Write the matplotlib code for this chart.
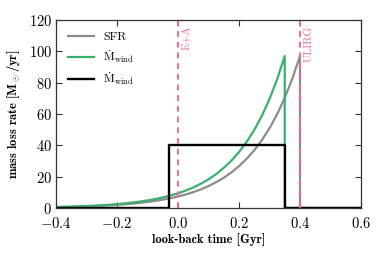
import matplotlib
matplotlib.use("Agg")
import matplotlib.pyplot as plt

plt.rcParams['font.family'] = 'serif'
plt.rcParams['font.serif'] = ['cmr10']
plt.rcParams['mathtext.fontset'] = 'cm'
plt.rcParams['axes.formatter.use_mathtext'] = True
plt.rcParams['axes.unicode_minus'] = True

# star formation rate (gray)
t_sfr = [-0.4, -0.375, -0.35, -0.325, -0.3, -0.275, -0.25, -0.225, -0.2, -0.175,
         -0.15, -0.125, -0.1, -0.075, -0.05, -0.025, 0.0, 0.025, 0.05, 0.075,
         0.1, 0.125, 0.15, 0.175, 0.2, 0.225, 0.25, 0.275, 0.3, 0.325,
         0.35, 0.375, 0.4, 0.4, 0.6]
sfr = [0.56, 0.65, 0.77, 0.90, 1.06, 1.25, 1.46, 1.72, 2.02, 2.37,
       2.79, 3.28, 3.85, 4.53, 5.32, 6.25, 7.34, 8.63, 10.1, 11.9,
       14.0, 16.5, 19.3, 22.7, 26.7, 31.4, 36.8, 43.3, 50.9, 59.8,
       70.3, 82.6, 97.0, 0.0, 0.0]

# wind mass loss (green)
t_wind = [-0.4, -0.375, -0.35, -0.325, -0.3, -0.275, -0.25, -0.225, -0.2, -0.175,
          -0.15, -0.125, -0.1, -0.075, -0.05, -0.025, 0.0, 0.025, 0.05, 0.075,
          0.1, 0.125, 0.15, 0.175, 0.2, 0.225, 0.25, 0.275, 0.3, 0.325,
          0.35, 0.35, 0.6]
wind = [0.65, 0.77, 0.91, 1.08, 1.27, 1.50, 1.78, 2.10, 2.48, 2.93,
        3.46, 4.09, 4.83, 5.70, 6.74, 7.96, 9.41, 11.1, 13.1, 15.5,
        18.3, 21.6, 25.6, 30.2, 35.7, 42.2, 49.8, 58.8, 69.5, 82.1,
        97.0, 0.0, 0.0]

# constant wind (black step)
t_box = [-0.4, -0.03, -0.03, 0.35, 0.35, 0.6]
box = [0, 0, 40, 40, 0, 0]

t_events = [0.0, 0.4]
event_names = ['E+A', 'ULIRG']

fig = plt.figure(figsize=(3.84, 2.56), dpi=100)
ax = fig.add_axes([0.146, 0.1875, 0.794, 0.7345])

ax.plot(t_sfr, sfr, color='#8c8c8c', lw=1.6, label='SFR')
ax.plot(t_wind, wind, color='#3aaf6c', lw=1.6, label=r'$\dot{\rm M}_{\rm wind}$')
ax.plot(t_box, box, color='black', lw=1.7, label=r'$\dot{\rm M}_{\rm wind}$')

pink = '#ee6a95'
for te, name in zip(t_events, event_names):
    ax.axvline(te, color=pink, ls='--', lw=1.4, dashes=(3, 2.5))
    ax.text(te + 0.013, 116.5, name, color=pink, rotation=90, fontsize=8,
            ha='left', va='top')

ax.set_xlim(-0.4, 0.6)
ax.set_ylim(0, 120)
ax.set_xticks([-0.4, -0.2, 0.0, 0.2, 0.4, 0.6])
ax.set_yticks([0, 20, 40, 60, 80, 100, 120])
ax.tick_params(direction='in', top=True, right=True, labelsize=10.5,
               length=4, width=0.8, colors='#333333', labelcolor='black')
ax.tick_params(axis='x', pad=6)
ax.tick_params(axis='y', pad=3)
for s in ax.spines.values():
    s.set_color('#333333')
    s.set_linewidth(0.9)

ax.set_xlabel('look-back time [Gyr]', fontsize=9, family='cmb10', labelpad=1)
ax.set_ylabel(r'mass loss rate [M$_\odot$/yr]', fontsize=9, family='cmb10', labelpad=5)

ax.legend(loc='upper left', frameon=False, fontsize=8.5, handlelength=2.2,
          borderaxespad=0.6, labelspacing=0.5)

fig.savefig('out.png', dpi=100)
